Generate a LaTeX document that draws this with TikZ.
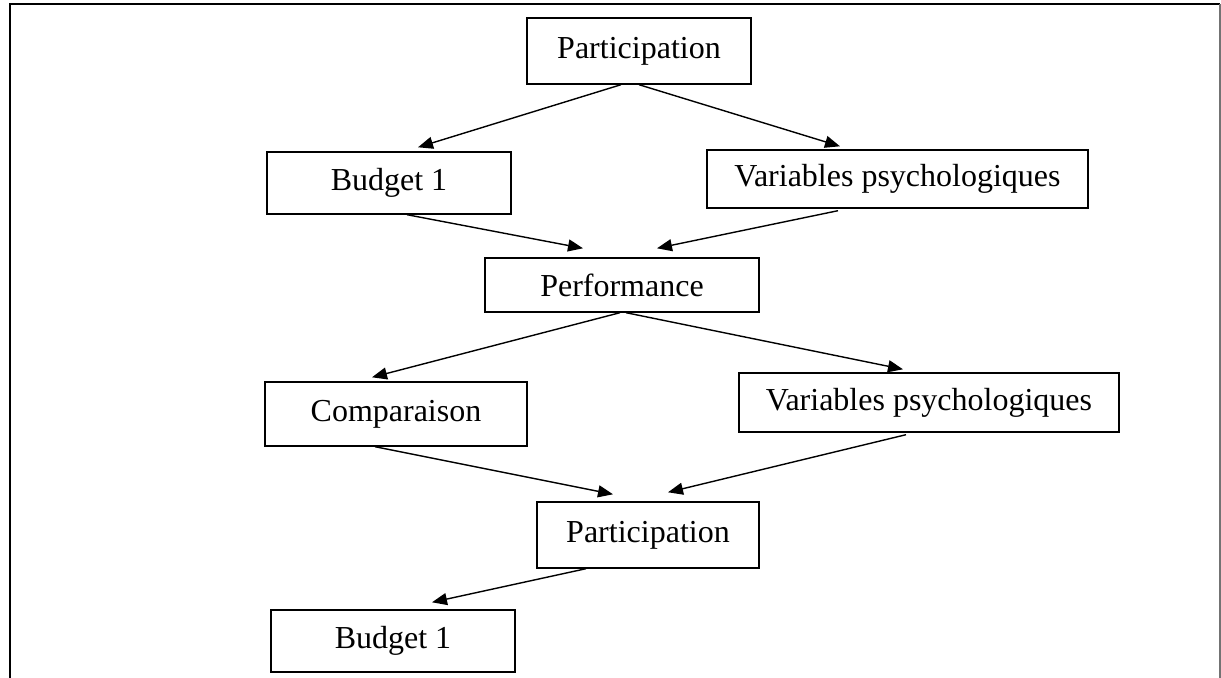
\documentclass[tikz,border=0pt]{standalone}
\usepackage{fontspec}
\setmainfont{Liberation Serif}
\usetikzlibrary{arrows.meta,calc}

\begin{document}
\begin{tikzpicture}[x=0.5pt,y=-0.5pt]
	\tikzstyle{box} = [draw=black, line width=0.7pt, inner sep=0pt, font=\fontsize{16}{19}\selectfont]
	\tikzstyle{arrow} = [draw=black, line width=0.7pt, -{Triangle[length=7.5pt,width=6pt]}]
	\useasboundingbox (0,0) rectangle (1221,678);
	\draw[line width=0.8pt] (10,678) -- (10,4) -- (1220,4);
	\draw[line width=0.8pt, black!55] (1220,4) -- (1220,678);
		\node[box, minimum width=112pt, minimum height=33pt] (part1) at (639,51) {Participation};
		\node[box, minimum width=122pt, minimum height=31pt] (bud1) at (389,183) {Budget 1};
		\node[box, minimum width=190.5pt, minimum height=29pt] (var1) at (897.5,179) {Variables psychologiques};
		\node[box, minimum width=137pt, minimum height=27pt] (perf) at (622,285) {Performance};
		\node[box, minimum width=131pt, minimum height=32pt] (comp) at (396,414) {Comparaison};
		\node[box, minimum width=190pt, minimum height=29.5pt] (var2) at (929,402.5) {Variables psychologiques};
		\node[box, minimum width=111pt, minimum height=33pt] (part2) at (648,535) {Participation};
		\node[box, minimum width=122pt, minimum height=31pt] (bud2) at (393,641) {Budget 1};

		\draw[arrow] ($(part1.south)+(-18,0)$) -- ($(bud1.north)+(29,-4)$);
		\draw[arrow] (part1.south) -- ($(var1.north)+(-57.5,-3)$);
		\draw[arrow] ($(bud1.south)+(18,0)$) -- ($(perf.north)+(-39,-9)$);
		\draw[arrow] ($(var1.south)+(-59.5,2)$) -- ($(perf.north)+(35,-9)$);
		\draw[arrow] ($(perf.south)+(-2,0)$) -- ($(comp.north)+(-24,-4)$);
		\draw[arrow] ($(perf.south)+(4,0)$) -- ($(var2.north)+(-26,-3)$);
		\draw[arrow] ($(comp.south)+(-21,0)$) -- ($(part2.north)+(-35,-7)$);
		\draw[arrow] ($(var2.south)+(-23,2)$) -- ($(part2.north)+(20,-9)$);
		\draw[arrow] ($(part2.south)+(-62,0)$) -- ($(bud2.north)+(39,-7)$);
	\end{tikzpicture}
\end{document}
